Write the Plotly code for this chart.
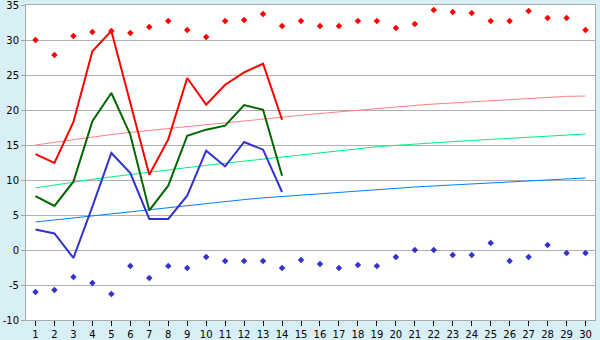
import plotly.graph_objects as go

days = list(range(1, 31))
days_obs = list(range(1, 15))

y_ticks = [-10, -5, 0, 5, 10, 15, 20, 25, 30, 35]
y_tick_labels = ["-10", "-5", "0", "5", "10", "15", "20", "25", "30", "35"]

# record max / min per day
rec_max = [30.0, 27.86, 30.57, 31.14, 31.29, 31.0, 31.86, 32.71, 31.43, 30.43,
           32.71, 32.86, 33.71, 32.0, 32.71, 32.0, 32.0, 32.71, 32.71, 31.71,
           32.29, 34.29, 34.0, 33.86, 32.71, 32.71, 34.14, 33.14, 33.14, 31.43]
rec_min = [-6.0, -5.71, -3.86, -4.71, -6.29, -2.29, -4.0, -2.29, -2.57, -1.0,
           -1.57, -1.57, -1.57, -2.57, -1.43, -2.0, -2.57, -2.14, -2.29, -1.0,
           0.0, 0.0, -0.71, -0.71, 1.0, -1.57, -1.0, 0.71, -0.43, -0.43]

# normal (average) max / mean / min
avg_max = [15.0, 15.4, 15.8, 16.15, 16.5, 16.8, 17.1, 17.35, 17.6, 17.9,
           18.15, 18.45, 18.7, 19.0, 19.25, 19.5, 19.75, 19.95, 20.2, 20.43,
           20.65, 20.85, 21.0, 21.25, 21.4, 21.55, 21.7, 21.85, 21.95, 22.0]
avg_mean = [8.86, 9.3, 9.7, 10.1, 10.45, 10.8, 11.15, 11.5, 11.8, 12.1,
            12.4, 12.7, 13.0, 13.3, 13.6, 13.9, 14.25, 14.5, 14.75, 14.95,
            15.15, 15.35, 15.5, 15.65, 15.8, 15.95, 16.1, 16.25, 16.4, 16.57]
avg_min = [4.0, 4.3, 4.6, 4.9, 5.2, 5.5, 5.8, 6.1, 6.4, 6.7,
           6.95, 7.2, 7.45, 7.65, 7.85, 8.05, 8.25, 8.45, 8.65, 8.86,
           9.0, 9.15, 9.3, 9.45, 9.6, 9.75, 9.9, 10.05, 10.2, 10.29]

# observed values (days 1-14)
obs_max = [13.71, 12.43, 18.3, 28.4, 31.3, 21.2, 10.76, 15.8, 24.57, 20.76,
           23.61, 25.37, 26.61, 18.61]
obs_mean = [7.71, 6.29, 9.76, 18.4, 22.43, 16.47, 5.66, 9.19, 16.33, 17.19,
            17.76, 20.71, 20.04, 10.61]
obs_min = [2.94, 2.37, -1.14, 6.2, 13.86, 11.0, 4.43, 4.43, 7.76, 14.19,
           11.94, 15.43, 14.33, 8.29]

fig = go.Figure()

for ys, col in [(avg_max, "#ff8080"), (avg_mean, "#00f080"), (avg_min, "#0080ff")]:
    fig.add_trace(go.Scatter(x=days, y=ys, mode="lines",
                             line=dict(color=col, width=1), hoverinfo="skip"))

for ys, col in [(obs_mean, "#006600"), (obs_min, "#3333cc"), (obs_max, "#ff0000")]:
    fig.add_trace(go.Scatter(x=days_obs, y=ys, mode="lines",
                             line=dict(color=col, width=2)))

fig.add_trace(go.Scatter(x=days, y=rec_max, mode="markers",
                         marker=dict(symbol="diamond", size=5, color="#ff0000")))
fig.add_trace(go.Scatter(x=days, y=rec_min, mode="markers",
                         marker=dict(symbol="diamond", size=5, color="#3333cc")))

fig.update_layout(
    width=600, height=340,
    margin=dict(l=26, r=5, t=5, b=20, autoexpand=False),
    paper_bgcolor="#d9eff6",
    plot_bgcolor="#ffffff",
    showlegend=False,
    font=dict(family="DejaVu Sans", size=10, color="#000000"),
)
fig.update_xaxes(range=[0.5, 30.5], tickmode="array", tickvals=days,
                 ticks="outside", ticklen=5, tickcolor="#000000",
                 showgrid=False, showline=True, linecolor="#aaaaaa",
                 linewidth=1, mirror=True, zeroline=False, automargin=False,
                 ticklabeloverflow="allow", tickfont=dict(size=10))
fig.update_yaxes(range=[-10, 35], tickmode="array", tickvals=y_ticks,
                 ticktext=y_tick_labels,
                 ticks="outside", ticklen=4, tickcolor="#aaaaaa",
                 showgrid=True, gridcolor="#b0b0b0", gridwidth=1,
                 showline=True, linecolor="#aaaaaa", linewidth=1,
                 mirror=True, zeroline=False, automargin=False,
                 ticklabeloverflow="allow", tickfont=dict(size=10))

fig.write_html("out.html")
